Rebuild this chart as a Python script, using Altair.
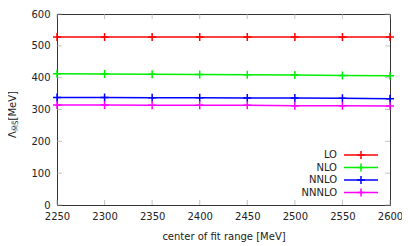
import altair as alt
import pandas as pd

x_vals = [2250, 2300, 2350, 2400, 2450, 2500, 2550, 2600]
series_names = ["LO", "NLO", "NNLO", "NNNLO"]
lo = [528, 528, 528, 528, 528, 528, 528, 528]
nlo = [412, 411.5, 411, 410, 409, 408, 407, 406]
nnlo = [338, 338, 337, 337, 336, 336, 335, 334]
nnnlo = [314, 314, 313, 313, 313, 312, 312, 311]
colors = ["#ff0000", "#00ee00", "#0000ff", "#ff00ff"]
y_ticks = [0, 100, 200, 300, 400, 500, 600]
x_ticks = x_vals

W, H = 333, 191
FONT = "DejaVu Sans"
PLUS = "M-1,0L1,0M0,-1L0,1"

rows = []
for name, vals in zip(series_names, [lo, nlo, nnlo, nnnlo]):
    for xv, yv in zip(x_vals, vals):
        rows.append({"x": xv, "y": yv, "s": name})
df = pd.DataFrame(rows)

xs = alt.Scale(domain=[2250, 2600], nice=False, zero=False)
ys = alt.Scale(domain=[0, 600], nice=False)
cs = alt.Scale(domain=series_names, range=colors)

xaxis = alt.Axis(values=x_ticks, format="d", ticks=False, domain=False, grid=False, labelFont=FONT,
                 labelFontSize=10, labelColor="#222", labelPadding=6, labelFlush=False,
                 labelOverlap=False,
                 title="center of fit range [MeV]", titleFont=FONT, titleFontSize=10,
                 titleFontWeight="normal", titleColor="#222", titlePadding=10)
yaxis = alt.Axis(values=y_ticks, format="d", ticks=False, domain=False, grid=False, labelFont=FONT,
                 labelFontSize=10, labelColor="#222", labelPadding=7, labelFlush=False,
                 labelOverlap=False, title=None)

lines = alt.Chart(df).mark_line(strokeWidth=1.5, clip=False).encode(
    x=alt.X("x:Q", scale=xs, axis=xaxis),
    y=alt.Y("y:Q", scale=ys, axis=yaxis),
    color=alt.Color("s:N", scale=cs, legend=None),
)
points = alt.Chart(df).mark_point(shape=PLUS, size=64, filled=False, strokeWidth=1.5, opacity=1, clip=False).encode(
    x=alt.X("x:Q", scale=xs, axis=xaxis),
    y=alt.Y("y:Q", scale=ys, axis=yaxis),
    color=alt.Color("s:N", scale=cs, legend=None),
)

ydf = pd.DataFrame({"x": [2250] * len(y_ticks), "y": y_ticks})
xdf = pd.DataFrame({"x": x_ticks, "y": [0] * len(x_ticks)})
tick_style = dict(color="#aaaaaa", thickness=1, size=5)
yt_left = alt.Chart(ydf).mark_tick(**tick_style).encode(
    y=alt.Y("y:Q", scale=ys, axis=yaxis), x=alt.value(2.5))
yt_right = alt.Chart(ydf).mark_tick(**tick_style).encode(
    y=alt.Y("y:Q", scale=ys, axis=yaxis), x=alt.value(W - 2.5))
xt_bot = alt.Chart(xdf).mark_tick(**tick_style).encode(
    x=alt.X("x:Q", scale=xs, axis=xaxis), y=alt.value(H - 2.5))
xt_top = alt.Chart(xdf).mark_tick(**tick_style).encode(
    x=alt.X("x:Q", scale=xs, axis=xaxis), y=alt.value(2.5))

# legend (manual, gnuplot style: label left of sample)
leg_layers = []
row_y = [141, 153.5, 166, 178.5]
for name, col, ry in zip(series_names, colors, row_y):
    ld = pd.DataFrame({"s": [name]})
    leg_layers.append(alt.Chart(ld).mark_text(align="right", baseline="middle", font=FONT,
                                              fontSize=10, color="#222").encode(
        text="s:N", x=alt.value(280), y=alt.value(ry)))
    leg_layers.append(alt.Chart(ld).mark_rule(color=col, strokeWidth=1.5).encode(
        x=alt.value(287), x2=alt.value(321), y=alt.value(ry)))
    leg_layers.append(alt.Chart(ld).mark_point(shape=PLUS, size=64, filled=False, strokeWidth=1.5,
                                               color=col, opacity=1).encode(
        x=alt.value(304), y=alt.value(ry)))

# y title: Lambda_{MS-bar} [MeV]
td = pd.DataFrame({"a": [0]})
t1 = alt.Chart(td).mark_text(text="Λ", angle=270, align="left", baseline="middle", font=FONT,
                             fontSize=10, color="#222").encode(x=alt.value(-44), y=alt.value(124))
t2 = alt.Chart(td).mark_text(text="M̅S̅", angle=270, align="left", baseline="middle", font=FONT,
                             fontSize=7, color="#222").encode(x=alt.value(-41), y=alt.value(117))
t3 = alt.Chart(td).mark_text(text=" [MeV]", angle=270, align="left", baseline="middle", font=FONT,
                             fontSize=10, color="#222").encode(x=alt.value(-44), y=alt.value(106.5))

chart = alt.layer(lines, points, yt_left, yt_right, xt_bot, xt_top, *leg_layers, t1, t2, t3).properties(
    width=W, height=H,
    autosize=alt.AutoSizeParams(type="none"),
    padding={"left": 49, "top": 6, "right": 12, "bottom": 41},
).configure_view(stroke="#333333", strokeWidth=1)

chart.save("out.html", embed_options={"renderer": "svg", "actions": False})
